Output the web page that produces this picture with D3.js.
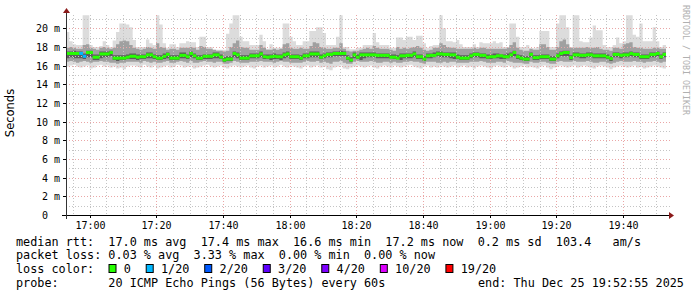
<!DOCTYPE html>
<html><head><meta charset="utf-8">
<script src="https://cdn.jsdelivr.net/npm/d3@7"></script>
<style>
html,body{margin:0;padding:0;background:#fff;}
svg{display:block;}
text{font-family:"DejaVu Sans Mono",monospace;}
</style></head>
<body><svg id="c" width="697" height="297"></svg>
<script>
// ---- data (60 s steps, 16:52:55 .. 19:52:55) ----
const startTime = new Date(2025, 11, 25, 16, 52, 55);
const endTime = new Date(2025, 11, 25, 19, 52, 55);
const stepSeconds = 60;

const median = [
17.3,17.3,17.3,17.3,17.3,17.0,17.4,17.4,16.9,16.9,
17.25,17.25,17.25,17.4,16.8,16.8,16.8,16.8,16.9,17.0,
17.0,16.9,16.95,16.95,17.15,17.15,16.95,16.8,16.8,17.0,
17.2,16.8,16.8,16.8,17.1,17.1,16.95,17.3,17.05,16.8,
16.8,17.0,17.0,17.0,17.15,17.15,16.9,16.6,16.7,16.7,
17.3,17.15,16.8,16.8,16.8,17.05,17.05,17.05,17.25,16.95,
16.9,16.95,17.0,16.95,16.95,17.15,17.25,16.95,16.95,16.95,
16.8,17.05,17.05,17.25,17.25,17.25,16.9,17.05,17.2,17.2,
17.3,17.3,17.3,17.3,16.8,16.6,17.15,16.9,17.15,17.15,
17.15,17.15,17.15,17.1,17.1,17.1,17.1,16.9,16.9,16.8,
17.05,17.05,17.1,17.1,17.25,16.95,16.95,16.7,17.05,17.1,
17.1,17.25,17.25,17.2,17.2,17.15,17.15,16.9,16.8,16.8,
16.8,17.05,17.2,17.2,17.1,17.1,16.9,16.95,16.95,17.05,
17.05,16.95,16.95,17.15,17.4,16.95,16.8,16.7,16.7,17.2,
16.85,16.85,16.95,16.95,16.95,16.7,16.7,17.05,17.3,17.4,
17.4,16.85,17.15,17.15,17.1,17.1,17.15,17.15,17.05,17.05,
17.05,17.05,16.9,16.75,17.2,17.2,17.1,17.15,17.15,17.3,
17.2,17.2,16.95,16.95,16.95,17.2,17.2,17.3,16.95,17.2];

const lossCount = [
0,0,0,0,1,1,0,0,0,0, 0,0,0,0,0,0,0,0,0,0, 0,0,0,0,0,0,0,0,0,0,
0,0,0,0,0,0,0,0,0,0, 0,0,0,0,0,0,0,0,0,0, 0,0,0,0,0,0,0,0,0,0,
0,0,0,0,0,0,0,0,0,0, 0,0,0,0,0,0,0,0,0,0, 0,0,0,0,0,0,0,0,0,0,
0,0,0,0,0,0,0,0,0,0, 0,0,0,0,0,0,0,0,0,0, 0,0,0,0,0,0,0,0,0,0,
0,0,0,0,0,0,0,0,0,0, 0,0,0,0,0,0,0,0,0,0, 0,0,0,0,0,0,0,0,0,0,
0,0,0,0,0,0,0,0,0,0, 0,0,0,0,0,0,0,0,0,0, 0,0,0,0,0,0,0,0,0,0];

const pingMax = [
19.6,18.6,18.3,18.2,18.2,21.4,21.4,18.2,18.0,18.0,
18.1,18.6,18.2,18.0,18.7,19.6,20.5,20.5,20.4,20.1,
18.75,18.0,18.0,18.0,18.8,18.4,18.2,21.4,20.4,18.4,
17.9,18.3,18.3,18.0,18.4,18.4,18.6,18.5,18.5,18.0,
19.1,19.1,18.0,18.0,17.7,17.7,17.7,17.7,19.4,20.5,
21.4,21.4,19.1,18.6,18.6,18.2,18.2,18.2,19.3,18.6,
17.8,18.3,17.9,17.9,17.9,20.5,20.5,19.1,18.6,18.2,
18.2,18.6,18.6,19.7,19.7,20.1,20.1,19.5,18.2,18.2,
18.2,19.1,21.4,18.0,18.0,17.75,17.75,17.9,17.9,18.2,
18.2,18.2,19.5,18.5,18.2,18.2,18.2,17.9,17.9,19.0,
19.0,18.75,19.1,19.1,18.75,19.2,19.2,18.4,17.9,18.1,
18.2,18.2,21.4,20.0,18.6,18.6,18.5,18.75,18.3,18.0,
18.0,18.0,18.3,18.0,18.5,18.4,18.4,18.4,18.6,18.4,
18.5,18.0,18.0,20.5,20.5,19.1,18.0,18.0,18.2,17.85,
17.85,18.0,19.7,19.7,19.7,18.0,18.0,20.5,21.4,21.4,
20.1,18.0,21.4,21.4,18.6,18.5,18.5,19.0,20.3,19.8,
19.8,18.2,18.0,18.0,18.2,19.0,18.4,18.6,21.4,21.4,
19.3,19.1,20.5,18.6,18.6,18.6,20.1,18.6,18.0,18.2];

const pingP90 = [
17.9,18.0,17.9,17.8,17.8,18.2,18.3,17.9,17.8,17.7,
17.9,18.0,17.9,17.8,17.9,18.3,18.6,18.7,18.6,18.2,
17.9,17.8,17.7,17.8,18.0,17.9,17.8,18.4,18.0,17.9,
17.7,17.8,17.8,17.7,17.9,17.9,17.9,18.0,17.9,17.7,
18.1,18.0,17.8,17.8,17.7,17.6,17.6,17.5,17.6,18.0,
18.4,18.7,18.0,17.9,17.9,17.7,17.7,17.7,18.2,17.9,
17.7,17.7,17.8,17.7,17.8,18.3,18.4,17.9,17.8,17.8,
17.9,17.8,17.8,18.1,18.5,18.4,18.0,17.9,17.8,17.8,
17.9,17.9,18.4,17.8,17.6,17.5,17.6,17.6,17.7,17.8,
17.9,17.8,18.1,17.9,17.8,17.8,17.8,17.7,17.6,18.0,
17.8,17.9,17.8,17.9,18.0,18.1,17.9,17.7,17.6,17.7,
17.9,17.9,18.4,18.2,18.0,17.9,17.9,17.8,17.8,17.8,
17.8,17.8,17.9,17.8,17.9,17.9,17.8,17.8,17.8,17.8,
17.8,17.8,17.9,18.2,18.5,17.9,17.7,17.6,17.6,17.8,
17.7,17.7,18.3,18.3,18.0,17.7,17.7,18.0,18.6,18.8,
18.3,17.9,17.9,17.9,17.9,17.9,18.0,17.9,17.9,18.0,
17.8,17.7,17.7,17.6,17.9,17.9,17.8,18.3,18.4,18.5,
18.0,17.9,17.9,17.8,17.8,17.8,17.9,17.9,17.8,17.8];

const pingP75 = [
17.5,17.5,17.6,17.5,17.5,17.3,17.6,17.6,17.2,17.2,
17.5,17.5,17.5,17.6,17.1,17.1,17.1,17.1,17.2,17.3,
17.3,17.2,17.2,17.2,17.4,17.4,17.2,17.1,17.1,17.3,
17.4,17.1,17.1,17.1,17.4,17.4,17.2,17.5,17.3,17.1,
17.1,17.2,17.2,17.2,17.4,17.4,17.2,16.9,17.0,17.0,
17.5,17.4,17.1,17.1,17.1,17.3,17.3,17.3,17.5,17.2,
17.2,17.2,17.3,17.2,17.2,17.4,17.5,17.2,17.2,17.2,
17.1,17.3,17.3,17.5,17.5,17.5,17.2,17.3,17.4,17.4,
17.5,17.5,17.6,17.5,17.1,16.9,17.4,17.2,17.4,17.4,
17.4,17.4,17.4,17.3,17.3,17.3,17.3,17.2,17.2,17.1,
17.3,17.3,17.3,17.3,17.5,17.2,17.2,17.0,17.3,17.3,
17.4,17.5,17.5,17.4,17.4,17.4,17.4,17.2,17.1,17.1,
17.1,17.3,17.4,17.4,17.3,17.3,17.2,17.2,17.3,17.3,
17.2,17.2,17.3,17.4,17.6,17.2,17.1,17.0,17.0,17.4,
17.1,17.1,17.2,17.2,17.2,17.0,17.0,17.3,17.5,17.6,
17.6,17.1,17.4,17.4,17.3,17.3,17.4,17.4,17.3,17.3,
17.3,17.3,17.2,17.0,17.4,17.4,17.3,17.4,17.4,17.5,
17.4,17.4,17.2,17.2,17.2,17.4,17.4,17.5,17.2,17.4];

const pingP25 = [
16.8,16.9,16.8,16.8,16.8,16.7,16.9,16.9,16.6,16.6,
16.8,16.9,16.9,17.0,16.6,16.5,16.6,16.6,16.7,16.7,
16.7,16.6,16.7,16.7,16.8,16.8,16.7,16.6,16.6,16.7,
16.8,16.6,16.6,16.6,16.8,16.8,16.7,16.9,16.8,16.6,
16.6,16.7,16.7,16.7,16.8,16.8,16.7,16.4,16.5,16.5,
16.9,16.8,16.6,16.6,16.6,16.8,16.8,16.8,16.9,16.7,
16.7,16.6,16.7,16.7,16.6,16.8,16.9,16.7,16.7,16.7,
16.6,16.8,16.8,16.9,16.9,16.9,16.7,16.8,16.9,16.9,
17.0,17.0,17.0,17.0,16.6,16.4,16.8,16.7,16.6,16.8,
16.9,16.9,16.9,16.8,16.8,16.8,16.8,16.8,16.7,16.7,
16.6,16.8,16.8,16.8,16.9,16.7,16.7,16.5,16.8,16.8,
16.9,17.0,16.9,16.9,16.9,16.8,16.7,16.7,16.6,16.6,
16.6,16.8,16.9,16.9,16.8,16.8,16.7,16.7,16.8,16.8,
16.7,16.7,16.8,16.9,17.0,16.7,16.6,16.5,16.5,16.9,
16.6,16.6,16.7,16.7,16.7,16.5,16.5,16.8,17.0,17.0,
17.0,16.6,16.9,16.9,16.8,16.8,16.9,16.9,16.8,16.8,
16.8,16.8,16.7,16.5,16.9,16.9,16.8,16.9,16.9,17.0,
16.9,16.9,16.7,16.7,16.7,16.9,16.9,17.0,16.7,16.9];

const pingP10 = [
16.4,16.5,16.4,16.3,16.4,16.5,16.4,16.3,16.4,16.4,
16.5,16.4,16.4,16.3,16.3,16.2,16.3,16.3,16.4,16.4,
16.4,16.4,16.3,16.5,16.4,16.3,16.4,16.3,16.3,16.4,
16.5,16.3,16.3,16.4,16.5,16.4,16.3,16.5,16.3,16.3,
16.4,16.5,16.4,16.4,16.3,16.4,16.4,16.2,16.2,16.3,
16.5,16.4,16.3,16.3,16.3,16.4,16.4,16.4,16.5,16.4,
16.4,16.4,16.3,16.4,16.5,16.4,16.4,16.3,16.3,16.3,
16.3,16.4,16.5,16.4,16.4,16.5,16.3,16.4,16.3,16.2,
16.4,16.4,16.5,16.3,16.2,16.2,16.4,16.5,16.4,16.4,
16.4,16.5,16.4,16.3,16.3,16.4,16.4,16.3,16.4,16.3,
16.3,16.4,16.4,16.5,16.4,16.4,16.3,16.2,16.4,16.4,
16.4,16.3,16.3,16.4,16.3,16.4,16.4,16.3,16.3,16.3,
16.3,16.4,16.4,16.4,16.5,16.4,16.3,16.3,16.3,16.4,
16.4,16.3,16.5,16.4,16.3,16.3,16.3,16.2,16.2,16.4,
16.3,16.3,16.4,16.4,16.3,16.2,16.2,16.4,16.5,16.4,
16.4,16.4,16.5,16.4,16.4,16.4,16.5,16.4,16.3,16.3,
16.4,16.4,16.3,16.2,16.3,16.4,16.5,16.4,16.4,16.4,
16.5,16.4,16.4,16.3,16.4,16.4,16.5,16.4,16.3,16.4];

const pingMin = [
15.9,16.0,16.1,15.9,15.8,15.9,16.0,15.7,15.8,16.0,
16.1,15.9,16.0,15.8,15.9,15.7,15.8,15.6,15.9,16.0,
16.0,15.9,15.8,16.1,15.9,15.8,16.0,15.7,15.8,15.9,
16.0,15.8,15.9,16.1,16.0,15.8,15.9,16.0,15.7,15.8,
15.9,16.0,16.1,15.9,15.8,15.9,16.0,15.8,15.7,15.9,
16.0,15.9,15.8,15.9,16.0,15.8,15.7,15.9,16.0,15.8,
15.9,16.0,15.8,15.9,16.1,15.9,15.8,16.0,15.9,15.8,
15.7,15.9,16.0,15.8,15.9,16.0,15.8,15.9,15.6,15.5,
15.8,15.9,16.0,15.7,15.6,15.8,15.9,16.0,15.9,15.8,
15.9,16.0,15.8,15.7,15.9,16.0,15.9,15.8,16.0,15.9,
15.8,15.9,16.0,16.1,15.9,15.8,15.7,15.9,16.0,15.8,
15.9,15.8,16.0,15.9,15.8,15.9,16.0,15.8,15.9,16.0,
15.8,15.9,15.7,15.9,16.0,15.9,15.8,15.7,15.9,16.0,
15.9,15.8,16.0,15.9,15.7,15.8,15.9,16.0,15.8,15.9,
15.8,15.7,15.9,16.0,15.8,15.6,15.8,15.9,16.0,15.9,
15.8,15.9,16.0,15.8,15.9,16.0,15.9,15.8,15.7,15.9,
16.0,15.9,15.8,15.6,15.8,15.9,16.0,15.9,15.8,15.9,
16.0,15.8,15.9,15.7,15.8,15.9,16.0,15.9,15.8,15.7];

const yTickValues = [0,2,4,6,8,10,12,14,16,18,20];
const yTickLabels = ["0  ","2 m","4 m","6 m","8 m","10 m","12 m","14 m","16 m","18 m","20 m"];
const xTickLabels = ["17:00","17:20","17:40","18:00","18:20","18:40","19:00","19:20","19:40"];

const lossLegendLabels = ["0","1/20","2/20","3/20","4/20","10/20","19/20"];
const lossLegendColors = ["#26ff00","#00b8ff","#0059ff","#5e00ff","#7e00ff","#dd00ff","#ff0000"];
const lossColorByCount = {0:"#26ff00",1:"#00b8ff",2:"#0059ff",3:"#5e00ff",4:"#7e00ff",10:"#dd00ff",19:"#ff0000"};

const legendLines = [
  "median rtt:  17.0 ms avg  17.4 ms max  16.6 ms min  17.2 ms now  0.2 ms sd  103.4   am/s",
  "packet loss: 0.03 % avg  3.33 % max  0.00 % min  0.00 % now",
  "loss color:",
  "probe:       20 ICMP Echo Pings (56 Bytes) every 60s"
];
const endLabel = "end: Thu Dec 25 19:52:55 2025";
const yAxisTitle = "Seconds";
const watermark = "RRDTOOL / TOBI OETIKER";

// ---- drawing ----
const svg = d3.select("#c");
const L = 66, R = 666, T = 15, B = 215;
const x = d3.scaleTime().domain([startTime, endTime]).range([L, R]);
const y = d3.scaleLinear().domain([0, 21.42]).range([B, T]);

svg.append("rect").attr("width",697).attr("height",297).attr("fill","#fff");
svg.append("defs").append("clipPath").attr("id","clip")
  .append("rect").attr("x",L).attr("y",T).attr("width",R-L).attr("height",B-T);

const stepT = i => new Date(+startTime + i*stepSeconds*1000);
const idx = d3.range(median.length + 1);
const pick = (arr,i) => arr[Math.min(i, arr.length-1)];

const g = svg.append("g").attr("clip-path","url(#clip)");
function band(loArr, hiArr, color){
  const area = d3.area().curve(d3.curveStepAfter)
    .x(i => x(stepT(i))).y0(i => y(pick(loArr,i))).y1(i => y(pick(hiArr,i)));
  g.append("path").datum(idx).attr("d", area).attr("fill", color);
}
band(pingMin, pingMax, "#dcdcdc");
band(pingP10, pingP90, "#a0a0a0");
band(pingP25, pingP75, "#5c5c5c");

// grid
const gridG = svg.append("g");
const minorT = d3.timeMinute.every(5).range(startTime, endTime);
const majorT = d3.timeMinute.every(20).range(startTime, endTime).filter(t => t.getHours()*60+t.getMinutes() > 17*60);
const MAJ = "#eaa6a6", MIN = "#c4c4c4";
minorT.forEach(t => {
  const isMaj = majorT.some(m => +m === +t);
  gridG.append("line").attr("x1",Math.round(x(t))+0.5).attr("x2",Math.round(x(t))+0.5)
    .attr("y1",T).attr("y2",B)
    .attr("stroke", isMaj ? MAJ : MIN).attr("stroke-dasharray","1,2");
});
d3.range(1, 22).forEach(v => {
  const isMaj = yTickValues.includes(v);
  gridG.append("line").attr("x1",L).attr("x2",R+4)
    .attr("y1",Math.round(y(v))+0.5).attr("y2",Math.round(y(v))+0.5)
    .attr("stroke", isMaj ? MAJ : MIN).attr("stroke-dasharray","1,2");
});

// median
const mg = svg.append("g").attr("clip-path","url(#clip)");
median.forEach((m,i) => {
  const x0 = x(stepT(i)), x1 = x(stepT(i+1));
  mg.append("rect").attr("x",x0).attr("width",x1-x0+0.3)
    .attr("y", y(m)-1.5).attr("height",3)
    .attr("fill", lossColorByCount[lossCount[i]]);
});

// axes
const ax = svg.append("g");
ax.append("line").attr("x1",62).attr("x2",670).attr("y1",B+0.5).attr("y2",B+0.5).attr("stroke","#000");
ax.append("line").attr("x1",L+0.5).attr("x2",L+0.5).attr("y1",B+4).attr("y2",12).attr("stroke","#333");
ax.append("path").attr("d",`M${669},${B-3} L${674},${B+0.5} L${669},${B+4} Z`).attr("fill","#8b1a1a");
ax.append("path").attr("d",`M${L-3},${13} L${L+0.5},${8} L${L+4},${13} Z`).attr("fill","#8b1a1a");

// y ticks
yTickValues.forEach((v,k) => {
  const yy = Math.round(y(v))+0.5;
  ax.append("line").attr("x1",L-3).attr("x2",L).attr("y1",yy).attr("y2",yy).attr("stroke","#000");
  ax.append("text").attr("x",60).attr("y",yy+3.5).attr("text-anchor","end")
    .attr("font-size","10px").style("white-space","pre").attr("fill","#000").text(yTickLabels[k]);
});
// x ticks
const xTicks = d3.timeMinute.every(20).range(startTime, endTime);
const fmt = d3.timeFormat("%H:%M");
xTicks.forEach(t => {
  const xx = Math.round(x(t))+0.5;
  ax.append("line").attr("x1",xx).attr("x2",xx).attr("y1",B).attr("y2",B+3).attr("stroke","#000");
  const lab = fmt(t);
  if (xTickLabels.includes(lab))
    ax.append("text").attr("x",xx).attr("y",229).attr("text-anchor","middle")
      .attr("font-size","10px").attr("fill","#000").text(lab);
});

// y axis title
svg.append("text").attr("transform","translate(14,113) rotate(-90)").attr("text-anchor","middle")
  .style("font-family","DejaVu Sans, sans-serif")
  .attr("font-size","11.5px").attr("fill","#000").text(yAxisTitle);
// watermark
svg.append("text").attr("transform","translate(683,5) rotate(90)").attr("text-anchor","start")
  .attr("font-size","8.3px").attr("fill","#b0b0b0").text(watermark);

// legend
const baseY = [245.5, 259, 273, 286.5];
legendLines.forEach((s,k) => {
  svg.append("text").attr("x",16).attr("y",baseY[k]).attr("font-size","11.8px")
    .style("white-space","pre").attr("fill","#000").text(s);
});
svg.append("text").attr("x",478).attr("y",baseY[3]).attr("font-size","11.8px")
  .style("white-space","pre").attr("fill","#000").text(endLabel);
let bx = 108.5;
lossLegendLabels.forEach((lab,k) => {
  svg.append("rect").attr("x",bx+0.5).attr("y",264.5).attr("width",7).attr("height",8)
    .attr("fill",lossLegendColors[k]).attr("stroke","#000").attr("stroke-width",1);
  const t = svg.append("text").attr("x",bx+15.3).attr("y",baseY[2]).attr("font-size","11.8px")
    .attr("fill","#000").text(lab);
  bx = bx + 15.3 + t.node().getComputedTextLength() + 14.8;
});
</script></body></html>
